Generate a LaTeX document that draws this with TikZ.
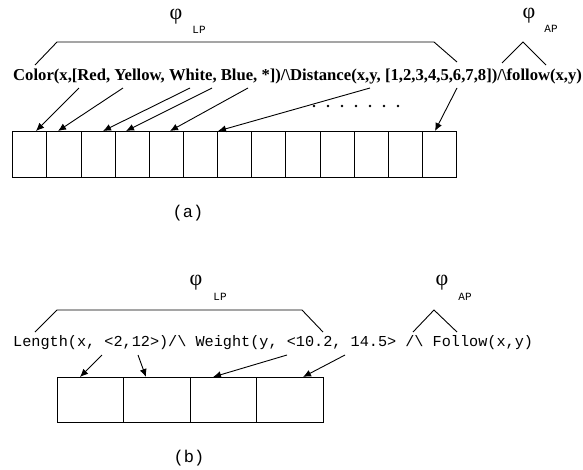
\documentclass[tikz,border=0pt]{standalone}
\usepackage{fontspec}
\setmainfont{Liberation Serif}
\setmonofont{Liberation Mono}
\usetikzlibrary{arrows.meta,calc}
\begin{document}
\begin{tikzpicture}[x=1pt,y=-1pt,
  cellA/.style={draw,line width=1pt,minimum width=34.15pt,minimum height=46pt,inner sep=0pt,outer sep=0pt},
  cellB/.style={draw,line width=1pt,minimum width=66.5pt,minimum height=45pt,inner sep=0pt,outer sep=0pt},
  arr/.style={line width=0.9pt,-{Latex[length=8pt,width=7pt]}},
  brk/.style={line width=0.9pt},
  phi/.style={font=\fontsize{22}{22}\selectfont,inner sep=0pt},
  sub/.style={font=\ttfamily\fontsize{11}{11}\selectfont,inner sep=0pt},
  captext/.style={font=\ttfamily\fontsize{17}{17}\selectfont,inner sep=0pt},
  dot/.style={circle,fill,inner sep=0pt,minimum size=2.8pt}
]
\useasboundingbox (0,0) rectangle (583,469);
% ---------------- (a) ----------------
\node[phi] (phiLPa) at (176,17) {φ};
\node[sub] (LPa) at (199,30) {LP};
\node[phi] (phiAPa) at (529,16) {φ};
\node[sub] (APa) at (551,29) {AP};
\draw[brk] (35,65) -- (57,42) -- (434,42) -- (457,62);
\draw[brk] (502,63) -- (523,42) -- (546,65);
\node[anchor=base west,inner sep=0pt,font=\bfseries\fontsize{16.65}{16.65}\selectfont] (texta) at (13,80)
  {Color(x,[Red, Yellow, White, Blue, *])/\textbackslash Distance(x,y, [1,2,3,4,5,6,7,8])/\textbackslash follow(x,y)};
\foreach \i in {1,...,13}{
  \node[cellA] (a\i) at ({12.7+34.15*(\i-0.5)},154) {};
}
\foreach \i in {0,...,6}{
  \node[dot] (d\i) at ({314+14*\i},106) {};
}
\coordinate (sa1) at (79,88);  \coordinate (ta1) at (36,131);
\coordinate (sa2) at (123,88); \coordinate (ta2) at (58,131);
\coordinate (sa3) at (190,88); \coordinate (ta3) at (103,131);
\coordinate (sa4) at (212,88); \coordinate (ta4) at (126,131);
\coordinate (sa5) at (248,88); \coordinate (ta5) at (170,131);
\coordinate (sa6) at (370,88); \coordinate (ta6) at (218,131);
\coordinate (sa7) at (457,88); \coordinate (ta7) at (435,131);
\foreach \i in {1,...,7}{ \draw[arr] (sa\i) -- (ta\i); }
\node[captext] (capa) at (188,213) {(a)};
% ---------------- (b) ----------------
\node[phi] (phiLPb) at (196,283) {φ};
\node[sub] (LPb) at (220,297) {LP};
\node[phi] (phiAPb) at (442,283) {φ};
\node[sub] (APb) at (465,297) {AP};
\draw[brk] (35,332) -- (57,310) -- (302,310) -- (323,332);
\draw[brk] (413,332) -- (434,310) -- (457,332);
\node[anchor=base west,inner sep=0pt,font=\ttfamily\fontsize{15.2}{15.2}\selectfont] (textb) at (13,346)
  {Length(x, <2,12>)/\textbackslash{} Weight(y, <10.2, 14.5> /\textbackslash{} Follow(x,y)};
\foreach \i in {1,...,4}{
  \node[cellB] (b\i) at ({57+66.5*(\i-0.5)},399.5) {};
}
\coordinate (sb1) at (102,355); \coordinate (tb1) at (80,377);
\coordinate (sb2) at (138,355); \coordinate (tb2) at (146,377);
\coordinate (sb3) at (287,355); \coordinate (tb3) at (213,377);
\coordinate (sb4) at (345,355); \coordinate (tb4) at (303,377);
\foreach \i in {1,...,4}{ \draw[arr] (sb\i) -- (tb\i); }
\node[captext] (capb) at (189,458) {(b)};
\end{tikzpicture}
\end{document}
